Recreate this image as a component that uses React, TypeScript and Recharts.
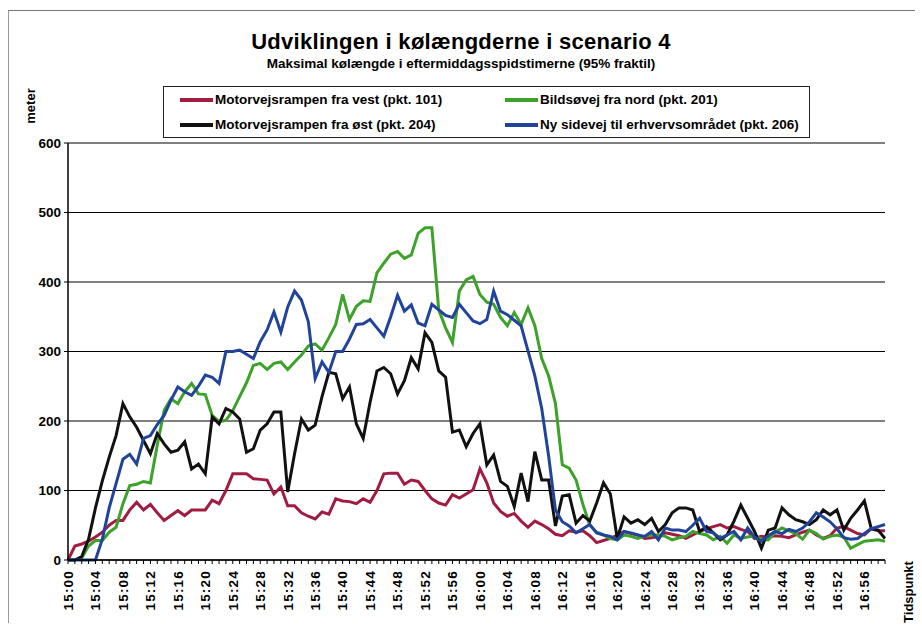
import { LineChart, Line, XAxis, YAxis, CartesianGrid } from "recharts"

// minutes 15:00 .. 16:59
const times = Array.from({ length: 120 }, (_, i) => {
  const h = 15 + Math.floor(i / 60)
  const m = i % 60
  return `${h}:${String(m).padStart(2, "0")}`
})

const yTicks = [0, 100, 200, 300, 400, 500, 600]

const vest = [
  0, 20, 23, 27, 33, 40, 50, 57, 57, 72, 83, 72, 80, 68, 57, 64, 71, 64, 72, 72,
  72, 86, 81, 100, 124, 124, 124, 117, 116, 115, 95, 105, 78, 78, 68, 63, 59, 69, 66, 88,
  85, 84, 81, 88, 83, 100, 124, 125, 125, 109, 115, 113, 100, 88, 82, 79, 94, 89, 95, 101,
  131, 111, 82, 70, 63, 67, 56, 47, 56, 51, 45, 37, 35, 42, 40, 42, 35, 25, 28, 31,
  36, 41, 38, 36, 31, 32, 34, 39, 37, 35, 31, 36, 41, 45, 48, 51, 46, 48, 44, 41,
  31, 34, 33, 35, 34, 32, 36, 40, 43, 36, 31, 35, 46, 48, 43, 38, 36, 45, 42, 42,
]

const nord = [
  0, 0, 3, 20, 28, 28, 40, 47, 81, 107, 109, 113, 111, 165, 215, 232, 225, 242, 254, 239,
  238, 208, 199, 201, 215, 235, 255, 280, 283, 274, 283, 285, 274, 285, 295, 308, 311, 302, 320, 339,
  382, 346, 365, 373, 372, 413, 427, 440, 444, 434, 439, 470, 478, 478, 360, 334, 313, 387, 403, 408,
  382, 371, 368, 349, 337, 356, 339, 363, 337, 290, 265, 225, 137, 132, 115, 80, 50, 40, 36, 31,
  29, 36, 34, 31, 34, 36, 36, 34, 29, 32, 34, 41, 38, 36, 29, 34, 24, 36, 31, 33,
  35, 30, 29, 40, 46, 42, 38, 30, 43, 38, 30, 34, 36, 33, 17, 22, 27, 28, 29, 27,
]

const oest = [
  0, 0, 5, 30, 75, 114, 148, 179, 225, 206, 191, 172, 153, 182, 167, 155, 158, 170, 131, 138,
  124, 206, 196, 218, 213, 203, 155, 160, 187, 196, 213, 213, 98, 153, 203, 187, 194, 235, 270, 268,
  232, 249, 196, 175, 227, 272, 277, 268, 239, 258, 291, 275, 327, 313, 272, 263, 184, 187, 163, 182,
  196, 137, 151, 113, 106, 77, 125, 84, 156, 115, 115, 49, 92, 94, 53, 64, 56, 82, 111, 95,
  31, 62, 53, 58, 51, 60, 41, 51, 68, 75, 75, 72, 41, 48, 39, 29, 36, 56, 79, 60,
  41, 17, 43, 46, 75, 65, 58, 55, 51, 58, 72, 65, 72, 43, 60, 72, 85, 45, 43, 31,
]

const sidevej = [
  0, 0, 0, 0, 0, 30, 75, 110, 145, 152, 138, 175, 179, 195, 208, 230, 249, 242, 237, 250,
  266, 263, 254, 300, 300, 302, 296, 290, 314, 331, 357, 328, 364, 387, 374, 343, 261, 285, 270, 300,
  300, 318, 339, 340, 346, 334, 322, 350, 381, 358, 367, 341, 337, 368, 360, 352, 349, 368, 356, 344,
  340, 346, 387, 358, 353, 345, 337, 301, 265, 218, 150, 72, 55, 49, 39, 45, 51, 39, 36, 34,
  29, 41, 39, 36, 34, 41, 29, 46, 43, 43, 41, 50, 60, 41, 39, 31, 36, 41, 29, 46,
  33, 27, 35, 41, 38, 44, 41, 46, 55, 68, 62, 55, 45, 32, 30, 31, 38, 45, 48, 51,
]

const series = [
  { key: "vest", name: "Motorvejsrampen fra vest (pkt. 101)", color: "#a01c40" },
  { key: "nord", name: "Bildsøvej fra nord (pkt. 201)", color: "#3da22a" },
  { key: "oest", name: "Motorvejsrampen fra øst (pkt. 204)", color: "#111111" },
  { key: "sidevej", name: "Ny sidevej til erhvervsområdet (pkt. 206)", color: "#21449a" },
]

const data = times.map((t, i) => ({
  t,
  vest: vest[i],
  nord: nord[i],
  oest: oest[i],
  sidevej: sidevej[i],
}))

const font = "'Liberation Sans', Arial, sans-serif"

function TimeTick(props: any) {
  const { x, y, index, payload } = props
  return (
    <g>
      <line x1={x} x2={x} y1={y - 4} y2={y} stroke="#000" strokeWidth={1} />
      {index % 4 === 0 && (
        <text
          x={x}
          y={y + 6}
          transform={`rotate(-90 ${x} ${y + 6})`}
          textAnchor="end"
          dy="0.36em"
          fontSize={13.5}
          fontWeight="bold"
          fontFamily={font}
          letterSpacing={1.2}
          fill="#000"
        >
          {payload.value}
        </text>
      )}
    </g>
  )
}

export default function App() {
  return (
    <div style={{ position: "absolute", left: 0, top: 0, width: 922, height: 630, background: "#fff", fontFamily: font }}>
      <div style={{ position: "absolute", left: 8, top: 10, width: 906, height: 612, borderTop: "1px solid #777", borderLeft: "1px solid #999" }} />
      <div style={{ position: "absolute", left: 0, width: 922, top: 29, textAlign: "center", fontSize: 22, fontWeight: "bold", letterSpacing: 0.3 }}>
        Udviklingen i kølængderne i scenario 4
      </div>
      <div style={{ position: "absolute", left: 0, width: 922, top: 56, textAlign: "center", fontSize: 13.5, fontWeight: "bold" }}>
        Maksimal kølængde i eftermiddagsspidstimerne (95% fraktil)
      </div>
      <div style={{ position: "absolute", left: 30, top: 106, transform: "translate(-50%, -50%) rotate(-90deg)", fontSize: 13, fontWeight: "bold" }}>
        meter
      </div>
      <div style={{ position: "absolute", left: 908, top: 592, transform: "translate(-50%, -50%) rotate(-90deg)", fontSize: 13, fontWeight: "bold" }}>
        Tidspunkt
      </div>
      <div style={{ position: "absolute", left: 163, top: 86, width: 647, height: 52, border: "1px solid #222", boxSizing: "border-box" }}>
        {series.map((s, i) => (
          <div
            key={s.key}
            style={{
              position: "absolute",
              left: i % 2 === 0 ? 16 : 341,
              top: i < 2 ? 5 : 30,
              display: "flex",
              alignItems: "center",
              fontSize: 13.5,
              fontWeight: "bold",
              whiteSpace: "nowrap",
            }}
          >
            <span style={{ display: "inline-block", width: 33, height: 4, background: s.color, marginRight: 2 }} />
            {s.name}
          </div>
        ))}
      </div>
      <div style={{ position: "absolute", left: 0, top: 0 }}>
        <LineChart width={922} height={630} data={data} margin={{ top: 143, right: 37, bottom: 10, left: 8 }}>
          <CartesianGrid vertical={false} stroke="#000" strokeWidth={1.2} />
          <XAxis
            dataKey="t"
            interval={0}
            height={60}
            tickSize={4}
            tickMargin={0}
            tickLine={false}
            tick={<TimeTick />}
            axisLine={{ stroke: "#000", strokeWidth: 1.5 }}
            padding={{ left: 0, right: 0 }}
          />
          <YAxis
            domain={[0, 600]}
            ticks={yTicks}
            width={60}
            tickSize={4}
            tickMargin={3}
            tickLine={{ stroke: "#000" }}
            axisLine={{ stroke: "#000", strokeWidth: 1.5 }}
            tick={{ fontSize: 13.5, fontWeight: "bold", fill: "#000", fontFamily: font }}
          />
          <YAxis
            yAxisId="frame"
            orientation="right"
            domain={[0, 600]}
            width={0}
            tick={false}
            tickLine={false}
            axisLine={{ stroke: "#555", strokeWidth: 1.2 }}
          />
          {series.map((s) => (
            <Line
              key={s.key}
              type="linear"
              dataKey={s.key}
              name={s.name}
              stroke={s.color}
              strokeWidth={3}
              dot={false}
              isAnimationActive={false}
            />
          ))}
        </LineChart>
      </div>
    </div>
  )
}
